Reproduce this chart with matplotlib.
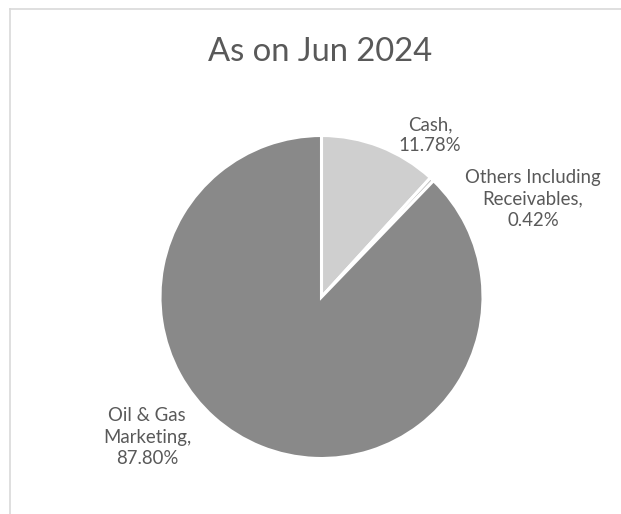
import matplotlib.pyplot as plt

# Portfolio split as on Jun 2024
segmentos = ['Cash', 'Others Including\nReceivables', 'Oil & Gas\nMarketing']
porcentajes = [11.78, 0.42, 87.80]
colores = ['#cfcfcf', '#bdbdbd', '#898989']

plt.rcParams['font.family'] = ['Lato', 'DejaVu Sans']
GRIS_TEXTO = '#595959'

W, H = 621, 514
fig = plt.figure(figsize=(W / 100, H / 100), dpi=100)
ax = fig.add_axes([0, 0, 1, 1])
ax.axis('off')

# marco del grafico (solo borde superior e izquierdo visibles)
ax.plot([10, W + 5], [H - 9, H - 9], color='#d9d9d9', lw=1.2)
ax.plot([10, 10], [-5, H - 9], color='#d9d9d9', lw=1.2)

cx, cy, radio = 321.5, H - 297, 161.5
ax.pie(porcentajes, colors=colores, startangle=90, counterclock=False,
       center=(cx, cy), radius=radio,
       wedgeprops=dict(edgecolor='white', linewidth=2.2))
ax.set_aspect('equal')
ax.set_xlim(0, W)
ax.set_ylim(0, H)

ax.text(320, H - 52, 'As on Jun 2024', ha='center', va='center',
        fontsize=23.6, color=GRIS_TEXTO)

# etiquetas: posicion del centro del texto en pixeles
pos_etiquetas = [(430, 135), (533, 199), (147, 437)]
for nombre, valor, (x, y) in zip(segmentos, porcentajes, pos_etiquetas):
    ax.text(x, H - y, f'{nombre},\n{valor:.2f}%', ha='center', va='center',
            fontsize=13.4, color=GRIS_TEXTO, linespacing=1.3)

fig.savefig('out.png', dpi=100, facecolor='white')
